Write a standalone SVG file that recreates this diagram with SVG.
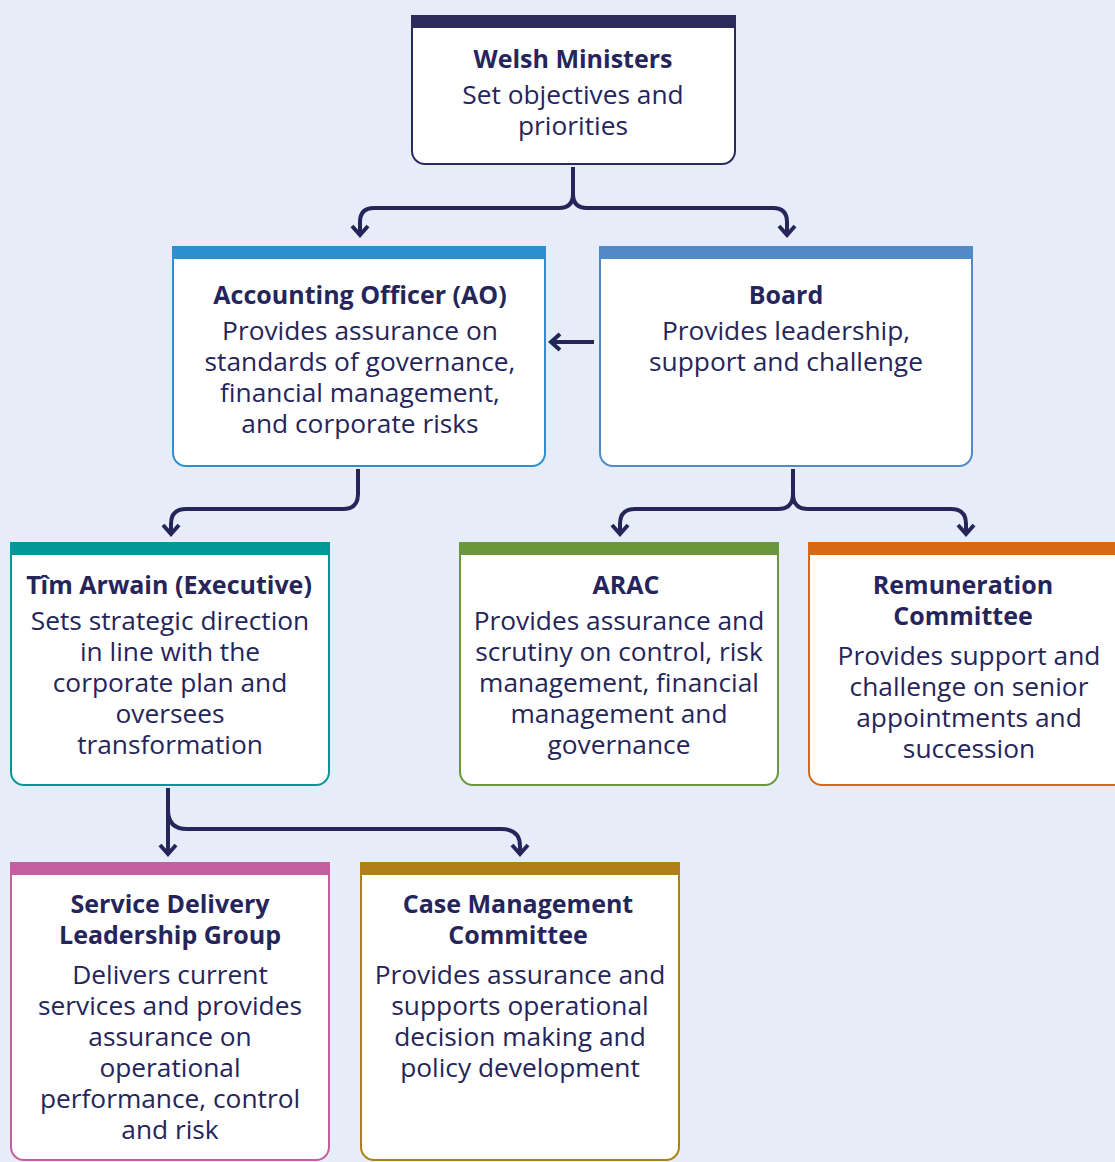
<svg xmlns="http://www.w3.org/2000/svg" width="1115" height="1162" viewBox="0 0 1115 1162">
  <style>
    .bg { fill: #e6edf8; }
    .box { fill: #ffffff; stroke-width: 2; }
    .t { font-family: "Open Sans", "Noto Sans", "DejaVu Sans", sans-serif; fill: #25255a; text-anchor: middle; }
    .h { font-size: 25px; font-weight: 700; }
    .b { font-size: 26.3px; font-weight: 400; }
    .wire { fill: none; stroke: #25255a; stroke-width: 4; stroke-linecap: butt; stroke-linejoin: round; }
  </style>
  <defs>
    <marker id="ah" markerUnits="userSpaceOnUse" markerWidth="24" markerHeight="24" refX="12" refY="12" orient="auto">
      <path d="M4,4 L13,12 L4,20" fill="none" stroke="#25255a" stroke-width="4" stroke-linejoin="miter"/>
    </marker>
  </defs>

  <rect class="bg" x="0" y="0" width="1115" height="1162"/>

  <!-- connectors -->
  <g id="connectors">
    <path class="wire" d="M573,167 V194 Q573,208 559,208 H374 Q360,208 360,222 V234" marker-end="url(#ah)"/>
    <path class="wire" d="M573,194 Q573,208 587,208 H773 Q787,208 787,222 V234" marker-end="url(#ah)"/>
    <path class="wire" d="M594,342 H552" marker-end="url(#ah)"/>
    <path class="wire" d="M358,469 V494 Q358,509 343,509 H186 Q171,509 171,524 V533" marker-end="url(#ah)"/>
    <path class="wire" d="M793,469 V494 Q793,509 778,509 H635 Q620,509 620,524 V533" marker-end="url(#ah)"/>
    <path class="wire" d="M793,494 Q793,509 808,509 H951 Q966,509 966,524 V533" marker-end="url(#ah)"/>
    <path class="wire" d="M168,788 V853" marker-end="url(#ah)"/>
    <path class="wire" d="M168,810 Q168,829 187,829 H501 Q520,829 520,846 V853" marker-end="url(#ah)"/>
  </g>

  <!-- Welsh Ministers -->
  <g id="welsh-ministers">
    <path class="box" stroke="#2a2a5c" d="M412,16 H735 V151 A13,13 0 0 1 722,164 H425 A13,13 0 0 1 412,151 Z"/>
    <rect x="411" y="15" width="325" height="13" fill="#2a2a5c"/>
    <text class="t h" x="573" y="68">Welsh Ministers</text>
    <text class="t b" x="573" y="104">Set objectives and</text>
    <text class="t b" x="573" y="135">priorities</text>
  </g>

  <!-- Accounting Officer -->
  <g id="accounting-officer">
    <path class="box" stroke="#2a90cf" d="M173,247 H545 V453 A13,13 0 0 1 532,466 H186 A13,13 0 0 1 173,453 Z"/>
    <rect x="172" y="246" width="374" height="13" fill="#2a90cf"/>
    <text class="t h" x="360" y="304">Accounting Officer (AO)</text>
    <text class="t b" x="360" y="340">Provides assurance on</text>
    <text class="t b" x="360" y="371">standards of governance,</text>
    <text class="t b" x="360" y="402">financial management,</text>
    <text class="t b" x="360" y="433">and corporate risks</text>
  </g>

  <!-- Board -->
  <g id="board">
    <path class="box" stroke="#5189c9" d="M600,247 H972 V453 A13,13 0 0 1 959,466 H613 A13,13 0 0 1 600,453 Z"/>
    <rect x="599" y="246" width="374" height="13" fill="#5189c9"/>
    <text class="t h" x="786" y="304">Board</text>
    <text class="t b" x="786" y="340">Provides leadership,</text>
    <text class="t b" x="786" y="371">support and challenge</text>
  </g>

  <!-- Tîm Arwain -->
  <g id="tim-arwain">
    <path class="box" stroke="#039797" d="M11,543 H329 V772 A13,13 0 0 1 316,785 H24 A13,13 0 0 1 11,772 Z"/>
    <rect x="10" y="542" width="320" height="13" fill="#039797"/>
    <text class="t h" x="169" y="594">Tîm Arwain (Executive)</text>
    <text class="t b" x="170" y="630">Sets strategic direction</text>
    <text class="t b" x="170" y="661">in line with the</text>
    <text class="t b" x="170" y="692">corporate plan and</text>
    <text class="t b" x="170" y="723">oversees</text>
    <text class="t b" x="170" y="754">transformation</text>
  </g>

  <!-- ARAC -->
  <g id="arac">
    <path class="box" stroke="#699739" d="M460,543 H778 V772 A13,13 0 0 1 765,785 H473 A13,13 0 0 1 460,772 Z"/>
    <rect x="459" y="542" width="320" height="13" fill="#699739"/>
    <text class="t h" x="626" y="594">ARAC</text>
    <text class="t b" x="619" y="630">Provides assurance and</text>
    <text class="t b" x="619" y="661">scrutiny on control, risk</text>
    <text class="t b" x="619" y="692">management, financial</text>
    <text class="t b" x="619" y="723">management and</text>
    <text class="t b" x="619" y="754">governance</text>
  </g>

  <!-- Remuneration Committee -->
  <g id="remuneration-committee">
    <path class="box" stroke="#d86914" d="M809,543 H1127 V772 A13,13 0 0 1 1114,785 H822 A13,13 0 0 1 809,772 Z"/>
    <rect x="808" y="542" width="320" height="13" fill="#d86914"/>
    <text class="t h" x="963" y="594">Remuneration</text>
    <text class="t h" x="963" y="625">Committee</text>
    <text class="t b" x="969" y="665">Provides support and</text>
    <text class="t b" x="969" y="696">challenge on senior</text>
    <text class="t b" x="969" y="727">appointments and</text>
    <text class="t b" x="969" y="758">succession</text>
  </g>

  <!-- Service Delivery Leadership Group -->
  <g id="service-delivery">
    <path class="box" stroke="#c45e9e" d="M11,863 H329 V1147 A13,13 0 0 1 316,1160 H24 A13,13 0 0 1 11,1147 Z"/>
    <rect x="10" y="862" width="320" height="13" fill="#c45e9e"/>
    <text class="t h" x="170" y="913">Service Delivery</text>
    <text class="t h" x="170" y="944">Leadership Group</text>
    <text class="t b" x="170" y="984">Delivers current</text>
    <text class="t b" x="170" y="1015">services and provides</text>
    <text class="t b" x="170" y="1046">assurance on</text>
    <text class="t b" x="170" y="1077">operational</text>
    <text class="t b" x="170" y="1108">performance, control</text>
    <text class="t b" x="170" y="1139">and risk</text>
  </g>

  <!-- Case Management Committee -->
  <g id="case-management">
    <path class="box" stroke="#ad7f16" d="M361,863 H679 V1147 A13,13 0 0 1 666,1160 H374 A13,13 0 0 1 361,1147 Z"/>
    <rect x="360" y="862" width="320" height="13" fill="#ad7f16"/>
    <text class="t h" x="518" y="913">Case Management</text>
    <text class="t h" x="518" y="944">Committee</text>
    <text class="t b" x="520" y="984">Provides assurance and</text>
    <text class="t b" x="520" y="1015">supports operational</text>
    <text class="t b" x="520" y="1046">decision making and</text>
    <text class="t b" x="520" y="1077">policy development</text>
  </g>
</svg>
